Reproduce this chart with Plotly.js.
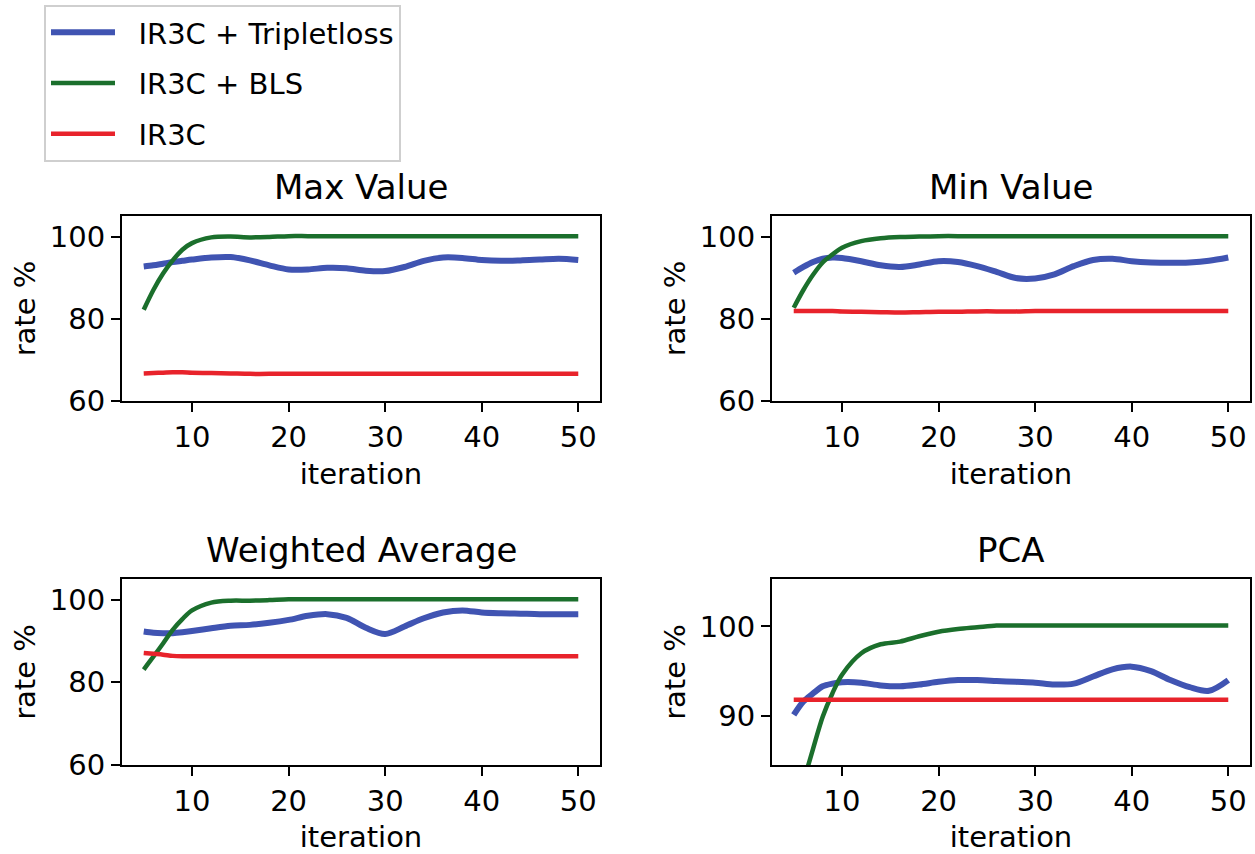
<!DOCTYPE html>
<html>
<head>
<meta charset="utf-8">
<script src="https://cdn.plot.ly/plotly-3.0.1.min.js"></script>
<style>html,body{margin:0;padding:0;background:#fff;}#chart{width:1255px;height:854px;}</style>
</head>
<body>
<div id="chart"></div>
<script>
// ---- data ----
const iteration = [5,6,7,8,9,10,12,14,16,18,20,22,24,26,28,30,32,34,36,38,40,42,44,46,48,50];
const seriesNames = ["IR3C + Tripletloss", "IR3C + BLS", "IR3C"];
const panelTitles = ["Max Value", "Min Value", "Weighted Average", "PCA"];

// Max Value
const maxTriplet = [92.7,93.0,93.4,93.8,94.1,94.4,94.9,95.0,94.2,93.0,92.0,92.0,92.4,92.3,91.7,91.6,92.6,94.1,94.9,94.8,94.3,94.1,94.2,94.4,94.6,94.3];
const maxBLS     = [82.2,87.0,91.0,94.2,96.8,98.4,99.8,100.0,99.8,99.9,100.1,100.1,100.1,100.1,100.1,100.1,100.1,100.1,100.1,100.1,100.1,100.1,100.1,100.1,100.1,100.1];
const maxIR3C    = [66.7,66.8,66.9,67.0,67.0,66.9,66.8,66.7,66.6,66.6,66.6,66.6,66.6,66.6,66.6,66.6,66.6,66.6,66.6,66.6,66.6,66.6,66.6,66.6,66.6,66.6];

// Min Value
const minTriplet = [91.2,92.6,93.8,94.6,94.9,94.8,94.0,93.0,92.6,93.2,94.0,93.8,92.8,91.4,89.9,89.8,90.8,92.8,94.3,94.6,94.0,93.7,93.6,93.7,94.1,94.9];
const minBLS     = [82.7,87.0,90.7,93.7,95.6,97.3,98.9,99.6,99.9,100.0,100.1,100.1,100.1,100.1,100.1,100.1,100.1,100.1,100.1,100.1,100.1,100.1,100.1,100.1,100.1,100.1];
const minIR3C    = [81.9,81.9,81.9,81.9,81.9,81.8,81.7,81.6,81.5,81.6,81.7,81.7,81.8,81.8,81.8,81.9,81.9,81.9,81.9,81.9,81.9,81.9,81.9,81.9,81.9,81.9];

// Weighted Average
const waTriplet = [92.3,92.0,91.9,91.9,92.1,92.4,93.1,93.7,93.9,94.4,95.1,96.1,96.5,95.6,93.2,91.7,93.5,95.5,96.9,97.4,96.9,96.7,96.6,96.5,96.5,96.5];
const waBLS     = [83.1,86.2,89.4,92.7,95.3,97.4,99.3,99.75,99.75,99.9,100.1,100.1,100.1,100.1,100.1,100.1,100.1,100.1,100.1,100.1,100.1,100.1,100.1,100.1,100.1,100.1];
const waIR3C    = [87.1,86.9,86.7,86.4,86.3,86.3,86.3,86.3,86.3,86.3,86.3,86.3,86.3,86.3,86.3,86.3,86.3,86.3,86.3,86.3,86.3,86.3,86.3,86.3,86.3,86.3];

// PCA
const pcaTriplet = [90.1,91.6,92.5,93.3,93.6,93.75,93.7,93.4,93.3,93.5,93.8,94.0,94.0,93.9,93.8,93.7,93.5,93.6,94.4,95.2,95.5,95.0,94.0,93.2,92.8,94.0];
const pcaBLS     = [79.0,82.6,86.3,89.9,92.5,94.6,97.0,98.0,98.3,98.9,99.4,99.7,99.9,100.1,100.1,100.1,100.1,100.1,100.1,100.1,100.1,100.1,100.1,100.1,100.1,100.1];
const pcaIR3C    = [91.8,91.8,91.8,91.8,91.8,91.8,91.8,91.8,91.8,91.8,91.8,91.8,91.8,91.8,91.8,91.8,91.8,91.8,91.8,91.8,91.8,91.8,91.8,91.8,91.8,91.8];

const xTicks = [10,20,30,40,50];
const yTicksMain = [60,80,100];
const yTicksPCA = [90,100];

// ---- styling ----
const colors = ["#4054b2", "#1b6f2c", "#e8232b"];
const widths = [6, 4.5, 4.5];
const FONT = "DejaVu Sans, sans-serif";
const W = 1255, H = 854;

const panels = [
  {series:[maxTriplet,maxBLS,maxIR3C], x:[122,600], y:[216,401], yr:[60,105], yt:yTicksMain},
  {series:[minTriplet,minBLS,minIR3C], x:[772,1250], y:[216,401], yr:[60,105], yt:yTicksMain},
  {series:[waTriplet,waBLS,waIR3C],   x:[122,600], y:[579,765], yr:[60,105], yt:yTicksMain},
  {series:[pcaTriplet,pcaBLS,pcaIR3C], x:[772,1250], y:[579,765], yr:[84.5,105.3], yt:yTicksPCA}
];

const traces = [];
const layout = {
  width: W, height: H,
  margin: {l:0, r:0, t:0, b:0},
  paper_bgcolor: "#fff", plot_bgcolor: "#fff",
  font: {family: FONT, size: 29, color: "#000"},
  showlegend: true,
  legend: {
    x: 44/W, y: 1 - 5/H, xanchor: "left", yanchor: "top",
    bgcolor: "#fff", bordercolor: "#cfcfcf", borderwidth: 2,
    font: {family: FONT, size: 29, color: "#000"},
    itemwidth: 64
  },
  annotations: []
};

panels.forEach((p, i) => {
  const n = i + 1;
  const xa = "x" + (n === 1 ? "" : n), ya = "y" + (n === 1 ? "" : n);
  p.series.forEach((vals, k) => {
    traces.push({
      type: "scatter", mode: "lines",
      x: iteration, y: vals,
      xaxis: xa, yaxis: ya,
      name: "\u00a0\u00a0" + seriesNames[k], legendgroup: seriesNames[k],
      showlegend: i === 0,
      line: {color: colors[k], width: widths[k], shape: "spline", smoothing: 0.9},
      hoverinfo: "skip"
    });
  });
  const axCommon = {
    showline: true, mirror: true, linecolor: "#000", linewidth: 2,
    ticks: "outside", ticklen: 9, tickwidth: 2, tickcolor: "#000",
    showgrid: false, zeroline: false,
    tickfont: {family: FONT, size: 29, color: "#000"}
  };
  layout["xaxis" + (n === 1 ? "" : n)] = Object.assign({}, axCommon, {
    domain: [p.x[0]/W, p.x[1]/W], anchor: ya,
    range: [2.75, 52.25], tickvals: xTicks,
    title: {text: "iteration", font: {family: FONT, size: 29, color: "#000"}, standoff: 11}
  });
  layout["yaxis" + (n === 1 ? "" : n)] = Object.assign({}, axCommon, {
    domain: [1 - p.y[1]/H, 1 - p.y[0]/H], anchor: xa,
    range: p.yr, tickvals: p.yt,
    title: {text: "rate %", font: {family: FONT, size: 29, color: "#000"}, standoff: 6}
  });
  layout.annotations.push({
    text: panelTitles[i], xref: "paper", yref: "paper",
    x: (p.x[0] + p.x[1]) / 2 / W, y: 1 - (p.y[0] - 29) / H,
    xanchor: "center", yanchor: "middle", showarrow: false,
    font: {family: FONT, size: 34, color: "#000"}
  });
});

Plotly.newPlot("chart", traces, layout, {displayModeBar: false, staticPlot: true});
</script>
</body>
</html>
